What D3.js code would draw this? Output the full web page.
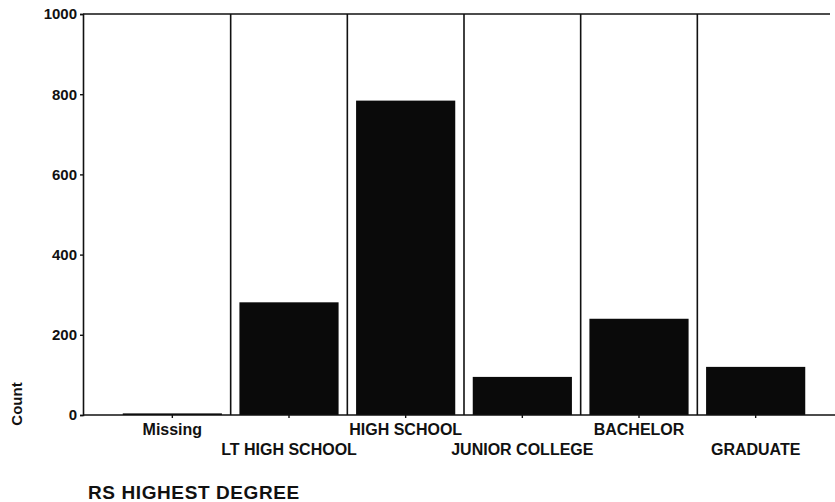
<!DOCTYPE html>
<html>
<head>
<meta charset="utf-8">
<script src="https://cdn.jsdelivr.net/npm/d3@7"></script>
<style>
  html, body { margin: 0; padding: 0; background: #fff; }
  svg { display: block; }
  text { font-family: "Liberation Sans", Arial, Helvetica, sans-serif; fill: #111; }
</style>
</head>
<body>
<svg id="chart" width="835" height="502"></svg>
<script>
const categories = ["Missing", "LT HIGH SCHOOL", "HIGH SCHOOL", "JUNIOR COLLEGE", "BACHELOR", "GRADUATE"];
const counts = [4, 281, 784, 95, 240, 120];
const yTicks = [0, 200, 400, 600, 800, 1000];
const yTitle = "Count";
const xTitle = "RS HIGHEST DEGREE";

const svg = d3.select("#chart");
const plotLeft = 83, plotRight = 835, plotTop = 14, plotBottom = 415;

const x = d3.scaleBand().domain(categories).range([114, 814])
  .paddingInner(0.15).paddingOuter(0.075);
const y = d3.scaleLinear().domain([0, 1000]).range([plotBottom, plotTop]);

// separators between categories
const step = x.step();
const sepX = categories.slice(1).map(c => x(c) - step * 0.075);
svg.selectAll("line.sep").data(sepX).join("line")
  .attr("class", "sep")
  .attr("x1", d => d).attr("x2", d => d)
  .attr("y1", plotTop).attr("y2", plotBottom)
  .attr("stroke", "#111").attr("stroke-width", 1.6);

// bars
svg.selectAll("rect.bar").data(categories).join("rect")
  .attr("class", "bar")
  .attr("x", d => x(d))
  .attr("width", x.bandwidth())
  .attr("y", (d, i) => y(counts[i]))
  .attr("height", (d, i) => y(0) - y(counts[i]))
  .attr("fill", "#0a0a0a");

// top frame line
svg.append("line").attr("x1", plotLeft).attr("x2", 830).attr("y1", plotTop).attr("y2", plotTop)
  .attr("stroke", "#111").attr("stroke-width", 1.6);
// baseline
svg.append("line").attr("x1", plotLeft).attr("x2", plotRight).attr("y1", plotBottom).attr("y2", plotBottom)
  .attr("stroke", "#111").attr("stroke-width", 1.6);

// y axis
const yAxis = d3.axisLeft(y).tickValues(yTicks).tickSize(3).tickPadding(3).tickFormat(d3.format("d"));
const gy = svg.append("g").attr("transform", `translate(${plotLeft},0)`).call(yAxis);
gy.select(".domain").attr("stroke", "#111").attr("stroke-width", 1.6);
gy.selectAll(".tick line").attr("stroke", "#111").attr("stroke-width", 1.4);
gy.selectAll(".tick text").style("font-size", "15px").style("font-weight", "bold").attr("fill", "#111");

// x axis ticks and labels
const xAxis = d3.axisBottom(x).tickSize(3).tickSizeOuter(0);
const gx = svg.append("g").attr("transform", `translate(0,${plotBottom})`).call(xAxis);
gx.select(".domain").remove();
gx.selectAll(".tick line").attr("stroke", "#111").attr("stroke-width", 1.4);
gx.selectAll(".tick text")
  .attr("y", (d, i) => i % 2 === 0 ? 20 : 40)
  .attr("dy", 0)
  .style("font-size", "16px").style("font-weight", "bold").attr("fill", "#111");

// axis titles
svg.append("text")
  .attr("transform", `translate(22,404) rotate(-90)`)
  .attr("text-anchor", "middle")
  .style("font-size", "15px").style("font-weight", "bold")
  .text(yTitle);

svg.append("text")
  .attr("x", 88).attr("y", 499)
  .style("font-size", "19px").style("font-weight", "bold")
  .style("letter-spacing", "0.6px")
  .text(xTitle);
</script>
</body>
</html>
